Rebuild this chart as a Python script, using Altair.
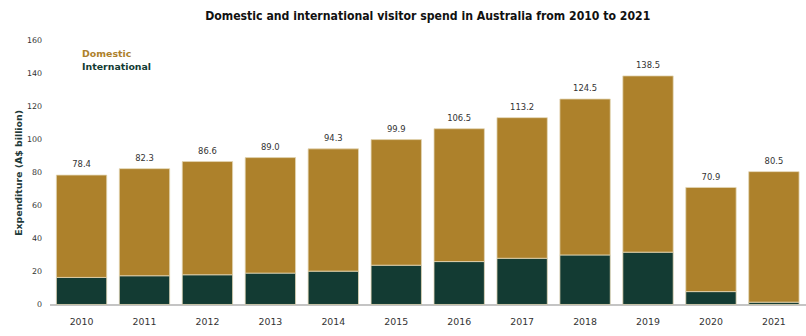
import altair as alt
import pandas as pd

years = ["2010", "2011", "2012", "2013", "2014", "2015", "2016", "2017", "2018", "2019", "2020", "2021"]
international = [16.4, 17.4, 18.0, 19.0, 20.2, 23.8, 26.0, 28.0, 30.0, 31.7, 7.8, 1.4]
domestic = [62.0, 64.9, 68.6, 70.0, 74.1, 76.1, 80.5, 85.2, 94.5, 106.8, 63.1, 79.1]
totals = [78.4, 82.3, 86.6, 89.0, 94.3, 99.9, 106.5, 113.2, 124.5, 138.5, 70.9, 80.5]
y_ticks = [0, 20, 40, 60, 80, 100, 120, 140, 160]
series = ["Domestic", "International"]
colors = ["#AD812B", "#133B33"]

rows = []
for i, y in enumerate(years):
    rows.append({"year": y, "series": "International", "value": international[i], "ord": 0})
    rows.append({"year": y, "series": "Domestic", "value": domestic[i], "ord": 1})
df = pd.DataFrame(rows)
tot_df = pd.DataFrame({"year": years, "total": totals, "label": [f"{t:.1f}" for t in totals]})

FONT = "DejaVu Sans"

xaxis = alt.Axis(title=None, labelAngle=0, ticks=False, domain=True,
                 domainColor="#8a8a8a", domainWidth=1.2, labelPadding=12,
                 labelFontSize=9.5, labelColor="#333333", labelFont=FONT)
xscale = alt.Scale(paddingInner=0.2, paddingOuter=0.11)
yscale = alt.Scale(domain=[0, 160], nice=False)
yaxis = alt.Axis(title="Expenditure (A$ billion)", values=y_ticks, tickCount=9,
                 grid=False, domain=False, ticks=False, labelPadding=8,
                 labelFontSize=8, labelColor="#333333", labelFont=FONT,
                 labelOverlap=False,
                 titleFont=FONT, titleFontSize=9.5, titleFontWeight="bold",
                 titleColor="#1f3a3a", titlePadding=3)

bars = alt.Chart(df).mark_bar(stroke="#e3d7b5", strokeWidth=0.8).encode(
    x=alt.X("year:N", sort=years, scale=xscale, axis=xaxis),
    y=alt.Y("sum(value):Q", scale=yscale, stack="zero", axis=yaxis),
    color=alt.Color("series:N", scale=alt.Scale(domain=series, range=colors), legend=None),
    order=alt.Order("ord:Q"),
)

labels = alt.Chart(tot_df).mark_text(baseline="bottom", dy=-6, fontSize=8.5,
                                     font=FONT, color="#333333").encode(
    x=alt.X("year:N", sort=years, scale=xscale, axis=xaxis),
    y=alt.Y("total:Q", scale=yscale, axis=yaxis),
    text="label:N",
)

leg_dom = alt.Chart(pd.DataFrame({"series": [series[0]]})).mark_text(
    align="left", baseline="middle", fontSize=9.5, font=FONT, fontWeight="bold",
    color=colors[0]).encode(x=alt.value(33), y=alt.value(14), text="series:N")
leg_int = alt.Chart(pd.DataFrame({"series": [series[1]]})).mark_text(
    align="left", baseline="middle", fontSize=9.5, font=FONT, fontWeight="bold",
    color=colors[1]).encode(x=alt.value(33), y=alt.value(27), text="series:N")

chart = alt.layer(bars, labels, leg_dom, leg_int).properties(
    width=765, height=267,
    title=alt.TitleParams("Domestic and international visitor spend in Australia from 2010 to 2021",
                          font="DejaVu Sans Condensed", fontSize=12.3, fontWeight="bold",
                          color="#111111", anchor="middle", offset=14),
    autosize=alt.AutoSizeParams(type="none"),
    padding={"left": 50, "top": 39, "right": 0, "bottom": 30},
    background="white",
).configure_view(stroke=None)

chart.save("out.html", embed_options={"renderer": "svg", "actions": False})
